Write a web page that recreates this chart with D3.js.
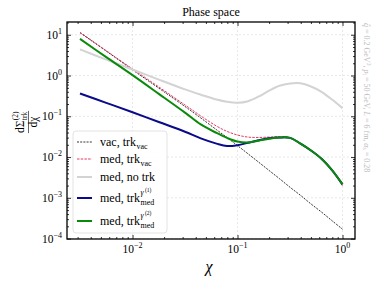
<!DOCTYPE html>
<html>
<head>
<meta charset="utf-8">
<script src="https://cdn.jsdelivr.net/npm/d3@7"></script>
<style>
  body { margin: 0; background: #fff; }
  text { font-family: "Liberation Serif", "DejaVu Serif", serif; }
</style>
</head>
<body>
<svg id="drawing_region"></svg>
<script>
// chi values (shared x grid)
const chi = [0.00316, 0.00562, 0.01, 0.0178, 0.0316, 0.0447, 0.0631, 0.0794, 0.1, 0.126,
             0.158, 0.2, 0.251, 0.316, 0.398, 0.501, 0.631, 0.794, 1.0];

const vacTrkVac = [11.2, 3.98, 1.38, 0.49, 0.174, 0.091, 0.0468, 0.0302, 0.0191, 0.0120,
                   0.00759, 0.00468, 0.00295, 0.00182, 0.00115, 0.000708, 0.000447, 0.000275, 0.00017];
const medTrkVac = [11.5, 4.07, 1.45, 0.525, 0.19, 0.102, 0.0575, 0.0427, 0.0347, 0.0309,
                   0.0302, 0.0309, 0.0316, 0.0295, 0.0214, 0.0145, 0.00912, 0.00479, 0.00195];
const medNoTrk = [4.37, 2.45, 1.41, 0.794, 0.457, 0.339, 0.257, 0.226, 0.214, 0.234,
                  0.302, 0.427, 0.562, 0.638, 0.646, 0.537, 0.398, 0.257, 0.158];
const medTrkG1 = [0.363, 0.214, 0.126, 0.0724, 0.0417, 0.0288, 0.0214, 0.0186, 0.0195, 0.0224,
                  0.0257, 0.0288, 0.0302, 0.0295, 0.0214, 0.0145, 0.00912, 0.00479, 0.00214];
const medTrkG2 = [7.94, 2.82, 1.02, 0.355, 0.123, 0.0631, 0.0390, 0.0295, 0.0240, 0.0229,
                  0.0251, 0.0282, 0.0302, 0.0295, 0.0214, 0.0145, 0.00912, 0.00479, 0.00214];

const xTicks = [0.01, 0.1, 1];
const xTickExp = ["\u22122", "\u22121", "0"];
const yTicks = [10, 1, 0.1, 0.01, 0.001, 0.0001];
const yTickExp = ["1", "0", "\u22121", "\u22122", "\u22123", "\u22124"];

const series = [
    { name: "vac, trk", sup: "", sub: "vac", values: vacTrkVac, color: "#000000", width: 0.8, dash: "2,1.2" },
    { name: "med, trk", sup: "", sub: "vac", values: medTrkVac, color: "#e8214f", width: 0.9, dash: "2.5,1.2" },
    { name: "med, no trk", sup: "", sub: "", values: medNoTrk, color: "#d3d3d3", width: 2, dash: null },
    { name: "med, trk", sup: "(1)", sub: "med", values: medTrkG1, color: "#0a0a8a", width: 2, dash: null },
    { name: "med, trk", sup: "(2)", sub: "med", values: medTrkG2, color: "#0a8a0a", width: 2, dash: null }
];

const config = {
    width: 374,
    height: 281,
    margin: { top: 22, right: 19, bottom: 42, left: 67 }
};

const svg = d3.select("#drawing_region")
    .attr("width", config.width)
    .attr("height", config.height);

const inner_width = config.width - config.margin.left - config.margin.right;
const inner_height = config.height - config.margin.top - config.margin.bottom;

const chart = svg.append("g")
    .attr("transform", `translate(${config.margin.left}, ${config.margin.top})`);

const xscale = d3.scaleLog()
    .domain([Math.pow(10, -2.624), Math.pow(10, 0.119)])
    .range([0, inner_width]);

const yscale = d3.scaleLog()
    .domain([Math.pow(10, -4.01), Math.pow(10, 1.313)])
    .range([inner_height, 0]);

// minor ticks
function minorTicks(scale) {
    const [a, b] = scale.domain();
    const out = [];
    for (let e = Math.floor(Math.log10(a)); e <= Math.ceil(Math.log10(b)); e++) {
        for (let m = 2; m <= 9; m++) {
            const v = m * Math.pow(10, e);
            if (v >= a && v <= b) out.push(v);
        }
    }
    return out;
}

// grid
chart.append("g").selectAll("line.gx")
    .data(xTicks).enter().append("line")
    .attr("x1", d => xscale(d)).attr("x2", d => xscale(d))
    .attr("y1", 0).attr("y2", inner_height)
    .attr("stroke", "#d9d9d9").attr("stroke-width", 0.6).attr("stroke-dasharray", "2,2");
chart.append("g").selectAll("line.gy")
    .data(yTicks).enter().append("line")
    .attr("y1", d => yscale(d)).attr("y2", d => yscale(d))
    .attr("x1", 0).attr("x2", inner_width)
    .attr("stroke", "#d9d9d9").attr("stroke-width", 0.6).attr("stroke-dasharray", "2,2");

// lines
const line = d3.line()
    .x((d, i) => xscale(chi[i]))
    .y(d => yscale(d))
    .curve(d3.curveCatmullRom.alpha(0.5));

chart.append("g").selectAll("path")
    .data(series).enter().append("path")
    .attr("d", d => line(d.values))
    .attr("fill", "none")
    .attr("stroke", d => d.color)
    .attr("stroke-width", d => d.width)
    .attr("stroke-dasharray", d => d.dash);

// axes with inward ticks on all sides
function styleAxis(g) {
    g.select(".domain").remove();
    g.selectAll("line").attr("stroke", "#000").attr("stroke-width", 0.8);
    g.selectAll("text").remove();
}
const axes = [
    [d3.axisBottom, xscale, `translate(0, ${inner_height})`],
    [d3.axisTop, xscale, "translate(0, 0)"],
    [d3.axisLeft, yscale, "translate(0, 0)"],
    [d3.axisRight, yscale, `translate(${inner_width}, 0)`]
];
axes.forEach(([fn, sc, tr]) => {
    const majors = sc === xscale ? xTicks : yTicks;
    chart.append("g").attr("transform", tr)
        .call(fn(sc).tickValues(majors).tickSize(-4)).call(styleAxis);
    chart.append("g").attr("transform", tr)
        .call(fn(sc).tickValues(minorTicks(sc)).tickSize(-2)).call(styleAxis);
});

// frame
chart.append("rect")
    .attr("width", inner_width).attr("height", inner_height)
    .attr("fill", "none").attr("stroke", "#000").attr("stroke-width", 1.3);

// tick labels
function powerLabel(g, x, y, exp, anchor) {
    const t = g.append("text").attr("x", x).attr("y", y)
        .attr("font-size", 11.5).attr("text-anchor", anchor).attr("fill", "#000");
    t.append("tspan").text("10");
    t.append("tspan").attr("font-size", 8).attr("dy", -5).text(exp);
}
xTicks.forEach((d, i) => powerLabel(chart, xscale(d), inner_height + 14, xTickExp[i], "middle"));
yTicks.forEach((d, i) => powerLabel(chart, -5, yscale(d) + 4, yTickExp[i], "end"));

// title and axis labels
svg.append("text")
    .attr("x", config.margin.left + inner_width / 2).attr("y", 16)
    .attr("text-anchor", "middle").attr("font-size", 12)
    .text("Phase space");

svg.append("text")
    .attr("x", config.margin.left + inner_width / 2 - 2).attr("y", 272)
    .attr("text-anchor", "middle").attr("font-size", 16).attr("font-style", "italic")
    .text("\u03c7");

// y label: fraction, rotated
const ylab = svg.append("g").attr("transform", "translate(26, 122) rotate(-90)");
const num = ylab.append("g");
const numMain = num.append("text").attr("font-size", 11.5).attr("y", -2).text("d\u03a3");
const nw = numMain.node().getComputedTextLength();
num.append("text").attr("font-size", 7.5).attr("x", nw + 0.5).attr("y", -8).text("(2)");
num.append("text").attr("font-size", 7.5).attr("x", nw + 0.5).attr("y", 1).text("trk");
const nbw = num.node().getBBox().width;
num.attr("transform", `translate(${-nbw / 2}, 0)`);
ylab.append("line").attr("x1", -nbw / 2).attr("x2", nbw / 2).attr("y1", 2.5).attr("y2", 2.5)
    .attr("stroke", "#000").attr("stroke-width", 0.6);
ylab.append("text").attr("font-size", 11.5).attr("y", 11).attr("text-anchor", "middle")
    .text("d\u03c7");

// right-side parameter text
const side = svg.append("text")
    .attr("transform", "translate(364, 23) rotate(90)")
    .attr("font-size", 8).attr("fill", "#bdbdbd");
side.append("tspan").attr("font-style", "italic").text("q\u0302");
side.append("tspan").text(" = 0.2 GeV");
side.append("tspan").attr("font-size", 5.5).attr("dy", -3).text("3");
side.append("tspan").attr("dy", 3).text(", ");
side.append("tspan").attr("font-style", "italic").text("p");
side.append("tspan").attr("font-size", 5.5).attr("dy", 1.5).text("t");
side.append("tspan").attr("dy", -1.5).text(" = 50 GeV, ");
side.append("tspan").attr("font-style", "italic").text("L");
side.append("tspan").text(" = 6 fm, ");
side.append("tspan").attr("font-style", "italic").text("\u03b1");
side.append("tspan").attr("font-size", 5.5).attr("dy", 1.5).text("s");
side.append("tspan").attr("dy", -1.5).text(" = 0.28");

// legend
const legend = svg.append("g");
legend.append("rect")
    .attr("x", 73).attr("y", 131).attr("width", 94).attr("height", 102)
    .attr("rx", 3).attr("fill", "#fff").attr("fill-opacity", 0.85)
    .attr("stroke", "#dcdcdc").attr("stroke-width", 0.8);
const legendY = [142, 159, 177, 198, 221];
series.forEach((s, i) => {
    const y = legendY[i];
    legend.append("line")
        .attr("x1", 77).attr("x2", 92).attr("y1", y).attr("y2", y)
        .attr("stroke", s.color).attr("stroke-width", s.width)
        .attr("stroke-dasharray", s.dash);
    const t = legend.append("text").attr("x", 100).attr("y", y + 4)
        .attr("font-size", 12).text(s.name);
    const w = t.node().getComputedTextLength();
    if (s.sup) {
        legend.append("text").attr("x", 100 + w + 0.5).attr("y", y - 3)
            .attr("font-size", 8).attr("font-style", "italic").text("\u03b3");
        legend.append("text").attr("x", 100 + w + 5).attr("y", y - 6.5)
            .attr("font-size", 5.5).text(s.sup);
    }
    if (s.sub) {
        legend.append("text").attr("x", 100 + w + 0.5).attr("y", y + 7)
            .attr("font-size", 8).text(s.sub);
    }
});
</script>
</body>
</html>
